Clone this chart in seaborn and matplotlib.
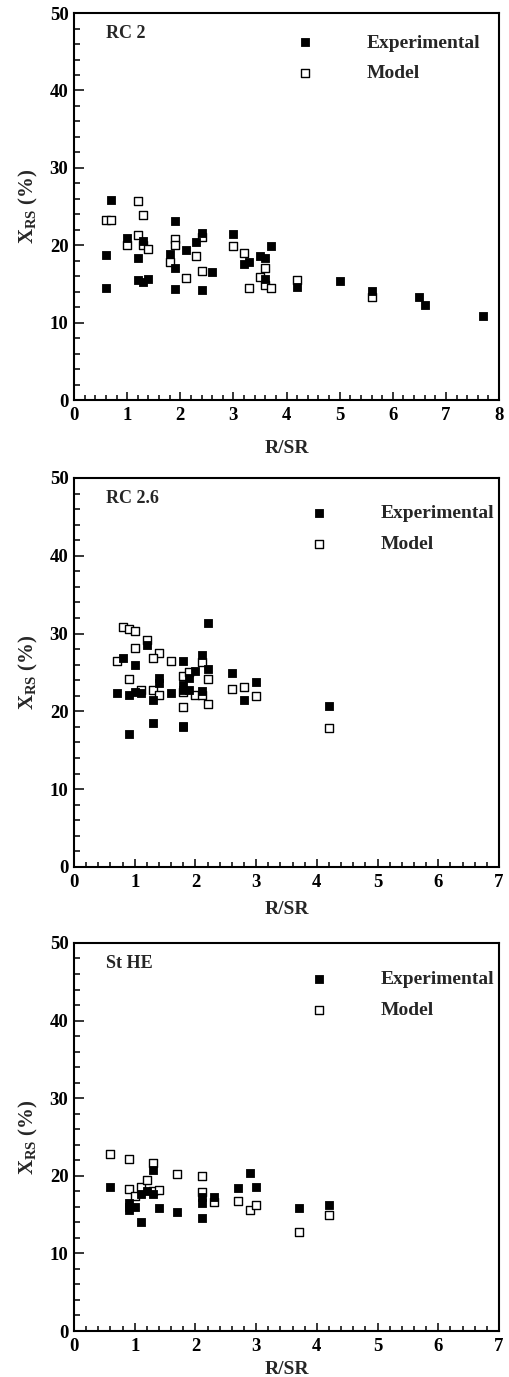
import numpy as np
import pandas as pd
import matplotlib
matplotlib.use("Agg")
import matplotlib.pyplot as plt
import seaborn as sns
from matplotlib.ticker import MultipleLocator

# ---- data (R/SR vs X_RS %) ----
rc2_exp_x = [0.7, 0.6, 0.6, 1.0, 1.2, 1.3, 1.2, 1.3, 1.4, 1.8, 1.9, 1.9, 1.9, 2.1, 2.3, 2.4,
             2.4, 2.6, 3.0, 3.2, 3.3, 3.5, 3.6, 3.6, 3.7, 4.2, 5.0, 5.6, 6.5, 6.6, 7.7]
rc2_exp_y = [25.8, 18.7, 14.5, 20.9, 18.3, 20.6, 15.5, 15.2, 15.7, 18.9, 23.1, 17.0, 14.4, 19.4, 20.4, 21.6,
             14.2, 16.6, 21.5, 17.6, 17.8, 18.6, 18.3, 15.6, 19.9, 14.6, 15.4, 14.1, 13.3, 12.3, 10.8]
rc2_mod_x = [0.6, 0.7, 1.0, 1.2, 1.2, 1.3, 1.3, 1.4, 1.8, 1.9, 1.9, 2.1, 2.3, 2.4, 2.4, 3.0,
             3.2, 3.3, 3.5, 3.6, 3.6, 3.7, 4.2, 5.6]
rc2_mod_y = [23.2, 23.2, 20.0, 25.7, 21.3, 23.9, 20.0, 19.5, 17.8, 20.8, 20.0, 15.8, 18.6, 21.1, 16.7, 19.9,
             19.0, 14.5, 15.9, 17.0, 14.9, 14.5, 15.5, 13.3]

rc26_exp_x = [1.2, 2.2, 2.1, 0.8, 1.0, 0.7, 0.9, 1.0, 1.1, 1.4, 1.4, 1.3, 1.3, 0.9, 1.6, 1.8,
              1.8, 1.8, 1.8, 1.8, 1.9, 1.9, 2.0, 2.1, 2.2, 2.6, 2.8, 3.0, 4.2]
rc26_exp_y = [28.5, 31.3, 27.2, 26.8, 26.0, 22.4, 22.1, 22.5, 22.4, 24.3, 23.7, 21.4, 18.45, 17.1, 22.4, 26.5,
              23.4, 22.8, 18.15, 18.0, 24.3, 22.8, 25.2, 22.6, 25.5, 24.9, 21.5, 23.8, 20.7]
rc26_mod_x = [0.8, 0.9, 1.0, 1.0, 1.2, 1.4, 0.7, 0.9, 1.1, 1.3, 1.3, 1.4, 1.6, 1.8, 1.8, 1.8,
              1.9, 2.0, 2.1, 2.1, 2.2, 2.2, 2.6, 2.8, 3.0, 4.2]
rc26_mod_y = [30.85, 30.6, 30.3, 28.2, 29.2, 27.5, 26.5, 24.2, 22.7, 26.8, 22.7, 22.1, 26.5, 24.5, 22.5, 20.6,
              25.0, 22.1, 26.4, 22.15, 24.2, 20.9, 22.9, 23.1, 22.0, 17.8]

sthe_exp_x = [0.6, 0.9, 0.9, 0.9, 1.0, 1.1, 1.1, 1.2, 1.3, 1.3, 1.4, 1.7, 2.1, 2.1, 2.1, 2.3,
              2.7, 2.9, 3.0, 3.7, 4.2]
sthe_exp_y = [18.5, 16.5, 16.0, 15.55, 16.0, 17.6, 14.1, 18.0, 20.8, 17.7, 15.8, 15.3, 17.3, 16.5, 14.6, 17.3,
              18.4, 20.3, 18.6, 15.8, 16.2]
sthe_mod_x = [0.6, 0.9, 0.9, 1.0, 1.1, 1.2, 1.3, 1.3, 1.4, 1.7, 2.1, 2.1, 2.3, 2.7, 2.9, 3.0,
              3.7, 4.2]
sthe_mod_y = [22.76, 22.2, 18.3, 17.4, 18.5, 19.4, 21.7, 18.1, 18.2, 20.2, 20.0, 17.9, 16.6, 16.7, 15.6, 16.2,
              12.7, 14.9]

panel_names = ["RC 2", "RC 2.6", "St HE"]
panel_xmax = [8, 7, 7]
series_labels = ["Experimental", "Model"]

sns.set_theme(style="ticks")
plt.rcParams["font.family"] = ["Liberation Serif", "DejaVu Serif"]
plt.rcParams["font.weight"] = "bold"
plt.rcParams["mathtext.fontset"] = "custom"
plt.rcParams["mathtext.rm"] = "Liberation Serif:bold"
plt.rcParams["mathtext.bf"] = "Liberation Serif:bold"
plt.rcParams["mathtext.it"] = "Liberation Serif:bold"

fig = plt.figure(figsize=(5.09, 13.77), dpi=100)

# axes rectangles in figure fractions (left, bottom, width, height)
rects = [(0.1454, 0.7095, 0.835, 0.2810),
         (0.1454, 0.3704, 0.835, 0.2825),
         (0.1454, 0.0334, 0.835, 0.2818)]
legend_anchor = [(0.521, 0.946), (0.554, 0.932), (0.554, 0.929)]
xlabel_pad = [11.5, 7.5, 4]

panels = [
    (rc2_exp_x, rc2_exp_y, rc2_mod_x, rc2_mod_y),
    (rc26_exp_x, rc26_exp_y, rc26_mod_x, rc26_mod_y),
    (sthe_exp_x, sthe_exp_y, sthe_mod_x, sthe_mod_y),
]

for i, (ex, ey, mx, my) in enumerate(panels):
    ax = fig.add_axes(rects[i])
    exp_df = pd.DataFrame({"R/SR": ex, "X": ey})
    mod_df = pd.DataFrame({"R/SR": mx, "X": my})

    sns.scatterplot(data=mod_df, x="R/SR", y="X", marker="s", s=30,
                    facecolor="white", edgecolor="black", linewidth=1.0,
                    label=series_labels[1], ax=ax, zorder=3)
    sns.scatterplot(data=exp_df, x="R/SR", y="X", marker="s", s=30,
                    color="black", edgecolor="black", linewidth=0.6,
                    label=series_labels[0], ax=ax, zorder=4)

    ax.set_xlim(0, panel_xmax[i])
    ax.set_ylim(0, 50)
    ax.xaxis.set_major_locator(MultipleLocator(1))
    ax.xaxis.set_minor_locator(MultipleLocator(0.2))
    ax.yaxis.set_major_locator(MultipleLocator(10))
    ax.yaxis.set_minor_locator(MultipleLocator(2))
    ax.tick_params(axis="both", which="both", direction="in", top=False, right=False,
                   width=1.1, colors="black", labelsize=13.5)
    ax.tick_params(axis="y", which="major", length=7, pad=4)
    ax.tick_params(axis="y", which="minor", length=4.5)
    ax.tick_params(axis="x", which="major", length=6, pad=5)
    ax.tick_params(axis="x", which="minor", length=3.5)
    for lab in ax.get_xticklabels() + ax.get_yticklabels():
        lab.set_fontweight("bold")
    for sp in ax.spines.values():
        sp.set_linewidth(1.5)
        sp.set_color("black")

    ax.set_xlabel("R/SR", fontsize=14, fontweight="bold", labelpad=xlabel_pad[i])
    ax.set_ylabel(r"$\mathbf{X}_{\mathbf{RS}}$ (%)", fontsize=15, fontweight="bold", labelpad=7)

    ax.text(0.075, 0.935, panel_names[i], transform=ax.transAxes, fontsize=13,
            fontweight="bold", ha="left", va="baseline")

    handles, labels = ax.get_legend_handles_labels()
    order = [labels.index(l) for l in series_labels]
    ax.legend([handles[k] for k in order], [labels[k] for k in order],
              loc="upper left", bbox_to_anchor=legend_anchor[i], frameon=False,
              borderpad=0, borderaxespad=0, handlelength=1.0, handletextpad=2.64,
              labelspacing=0.68, prop={"family": "Liberation Serif", "weight": "bold", "size": 14})

fig.savefig("out.png", dpi=100)
